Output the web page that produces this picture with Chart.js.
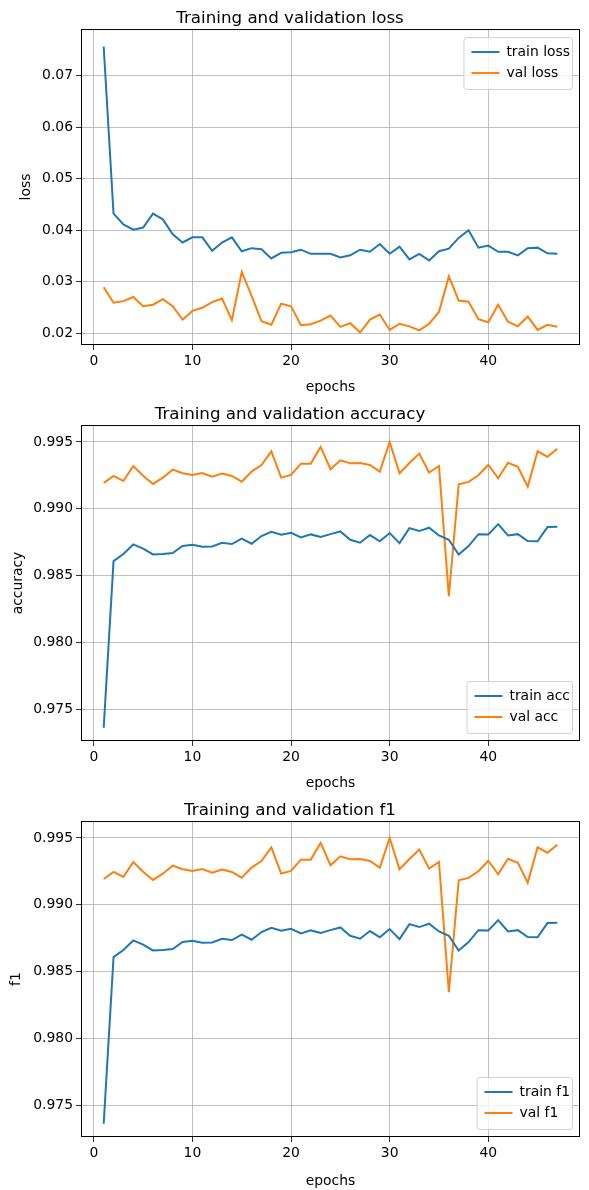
<!DOCTYPE html>
<html><head><meta charset="utf-8">
<script src="https://cdn.jsdelivr.net/npm/chart.js@4.4.1/dist/chart.umd.min.js"></script>
<style>body{margin:0;background:#fff}canvas{display:block}</style>
</head><body>
<canvas id="c1" width="589" height="396"></canvas>
<canvas id="c2" width="589" height="396"></canvas>
<canvas id="c3" width="589" height="398"></canvas>
<script>
const epochs = Array.from({length:47},(_,i)=>i+1);
const trainLoss = [0.0757,0.0432,0.0411,0.0401,0.0405,0.0432,0.0421,0.0392,0.0376,0.0386,0.0386,0.0360,0.0376,0.0386,0.0359,0.0365,0.0363,0.0345,0.0356,0.0357,0.0362,0.0354,0.0354,0.0354,0.0347,0.0351,0.0362,0.0358,0.0373,0.0354,0.0368,0.0343,0.0354,0.0341,0.0359,0.0364,0.0385,0.0400,0.0366,0.0370,0.0358,0.0358,0.0351,0.0365,0.0366,0.0355,0.0354];
const valLoss = [0.0289,0.0259,0.0262,0.0270,0.0252,0.0255,0.0266,0.0252,0.0226,0.0243,0.0249,0.0260,0.0267,0.0225,0.0319,0.0272,0.0223,0.0216,0.0257,0.0252,0.0215,0.0217,0.0224,0.0234,0.0212,0.0219,0.0201,0.0226,0.0236,0.0206,0.0218,0.0213,0.0205,0.0218,0.0241,0.0310,0.0263,0.0261,0.0227,0.0221,0.0255,0.0222,0.0213,0.0232,0.0206,0.0216,0.0212];
const trainAcc = [0.9736,0.98608,0.98661,0.98733,0.98701,0.98658,0.98661,0.98668,0.98721,0.98731,0.98716,0.98718,0.98746,0.98736,0.98776,0.98738,0.98796,0.98828,0.98805,0.9882,0.98786,0.98808,0.98788,0.9881,0.9883,0.98768,0.98746,0.98803,0.98756,0.98818,0.98743,0.98855,0.98833,0.98858,0.988,0.98768,0.98658,0.98721,0.9881,0.98808,0.98885,0.988,0.9881,0.98758,0.98756,0.98863,0.98865];
const valAcc = [0.99193,0.99246,0.99208,0.9932,0.99248,0.99186,0.99233,0.99293,0.99266,0.99253,0.99268,0.99241,0.99263,0.99246,0.99203,0.99278,0.99328,0.9943,0.99233,0.99253,0.99338,0.99338,0.99463,0.99296,0.99363,0.9934,0.99343,0.99328,0.99278,0.995,0.99266,0.99343,0.99413,0.99271,0.9932,0.98345,0.99183,0.99201,0.99251,0.9933,0.99228,0.99345,0.99315,0.99166,0.9943,0.9939,0.9945];
const trainF1 = trainAcc.slice();
const valF1 = valAcc.slice();
const xTicks = [0,10,20,30,40];
const lossTicks = [0.02,0.03,0.04,0.05,0.06,0.07];
const accTicks = [0.975,0.980,0.985,0.990,0.995];

const FONT = "'DejaVu Sans', sans-serif";
const pts = arr => arr.map((v,i)=>({x:epochs[i],y:v}));

const boxLegend = {
  id:'boxLegend',
  afterDraw(chart, args, opts){
    const ctx = chart.ctx, a = chart.chartArea;
    ctx.save();
    ctx.strokeStyle='#000'; ctx.lineWidth=1;
    ctx.strokeRect(a.left+0.5,a.top+0.5,a.right-a.left-1,a.bottom-a.top-1);
    const ds = chart.data.datasets;
    ctx.font = '13.9px '+FONT;
    let w = 0; ds.forEach(d=>w=Math.max(w,ctx.measureText(d.label).width));
    const bw = w+45, bh = 52;
    const bx = a.right-8-bw;
    const by = opts.pos==='top' ? a.top+8 : a.bottom-8-bh;
    ctx.fillStyle='rgba(255,255,255,0.8)';
    ctx.strokeStyle='#d0d0d0';
    ctx.beginPath(); if(ctx.roundRect) ctx.roundRect(bx+0.5,by+0.5,bw,bh,3); else ctx.rect(bx+0.5,by+0.5,bw,bh);
    ctx.fill(); ctx.stroke();
    ds.forEach((d,i)=>{
      const yy = by+15+i*21;
      ctx.strokeStyle=d.borderColor; ctx.lineWidth=2;
      ctx.beginPath(); ctx.moveTo(bx+8,yy); ctx.lineTo(bx+36,yy); ctx.stroke();
      ctx.fillStyle='#000'; ctx.textBaseline='middle'; ctx.textAlign='left';
      ctx.fillText(d.label,bx+43,yy);
    });
    ctx.restore();
  }
};

function make(id, title, ylabel, a, b, la, lb, ymin, ymax, yt, pos, dec, ypad){
  new Chart(document.getElementById(id), {
    type:'line',
    data:{datasets:[
      {label:la,data:pts(a),borderColor:'#1f77b4',borderWidth:2,pointRadius:0,tension:0,fill:false},
      {label:lb,data:pts(b),borderColor:'#ff7f0e',borderWidth:2,pointRadius:0,tension:0,fill:false}
    ]},
    plugins:[boxLegend],
    options:{
      responsive:false, animation:false,
      layout:{padding:{left:0,right:9,top:0,bottom:0}},
      plugins:{
        legend:{display:false}, tooltip:{enabled:false},
        title:{display:true,text:title,color:'#000',font:{family:FONT,size:16.7,weight:'normal'},padding:{top:9,bottom:0}},
        boxLegend:{pos:pos}
      },
      scales:{
        x:{type:'linear',min:-1.3,max:49.3,
          afterBuildTicks:s=>{s.ticks=xTicks.map(v=>({value:v}));},
          afterFit:s=>{s.height=id==='c3'?53:51;},
          grid:{color:'#b0b0b0',lineWidth:0.8,tickColor:'#000',tickLength:5},
          border:{display:false},
          ticks:{color:'#000',font:{family:FONT,size:13.9},padding:3,maxRotation:0,callback:v=>String(v)},
          title:{display:true,text:'epochs',color:'#000',font:{family:FONT,size:13.9},padding:{top:0,bottom:0}}
        },
        y:{type:'linear',min:ymin,max:ymax,
          afterBuildTicks:s=>{s.ticks=yt.map(v=>({value:v}));},
          afterFit:s=>{s.width=81;},
          grid:{color:'#b0b0b0',lineWidth:0.8,tickColor:'#000',tickLength:5},
          border:{display:false},
          ticks:{color:'#000',font:{family:FONT,size:13.9},padding:3,callback:v=>v.toFixed(dec)},
          title:{display:true,text:ylabel,color:'#000',font:{family:FONT,size:13.9},padding:{top:ypad,bottom:4}}
        }
      }
    }
  });
}
make('c1','Training and validation loss','loss',trainLoss,valLoss,'train loss','val loss',0.01767,0.0791,lossTicks,'top',2,18);
make('c2','Training and validation accuracy','accuracy',trainAcc,valAcc,'train acc','val acc',0.97261,0.99627,accTicks,'bottom',3,10);
make('c3','Training and validation f1','f1',trainF1,valF1,'train f1','val f1',0.97261,0.99627,accTicks,'bottom',3,8);
</script>
</body></html>
